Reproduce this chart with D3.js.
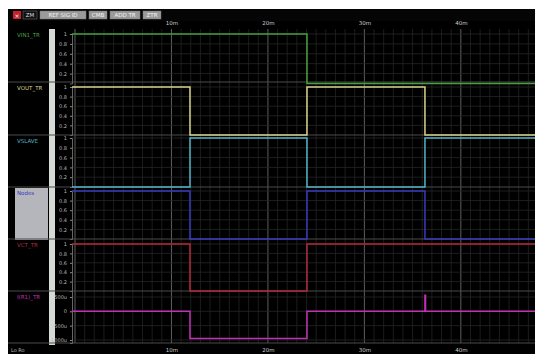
<!DOCTYPE html>
<html>
<head>
<meta charset="utf-8">
<script src="https://cdn.jsdelivr.net/npm/d3@7"></script>
<style>
  html, body { margin: 0; padding: 0; background: #fff; }
  svg { display: block; }
  text { font-family: "DejaVu Sans", Arial, sans-serif; }
</style>
</head>
<body>
<svg id="chart" width="535" height="354"></svg>
<script>
// ---- data ----
const timeTicks = [10, 20, 30, 40];                 // ms
const timeTickLabels = ["10m", "20m", "30m", "40m"];
const edgeTimes = [-1, 11.92, 24.05, 36.28];        // switching instants (ms)

const signalNames = ["VIN1_TR", "VOUT_TR", "VSLAVE", "Nodes", "VCT_TR", "I(R1)_TR"];
const signalColors = ["#46a040", "#d8d48a", "#52b4c8", "#3a3ac0", "#b42a3c", "#c232b4"];

const vinLevels    = [1, 1, 0, 0];
const voutLevels   = [1, 0, 1, 0];
const vslaveLevels = [0, 1, 0, 1];
const nodesLevels  = [1, 0, 1, 0];
const vctLevels    = [1, 0, 1, 1];

// current trace in micro-amps, with a short spike on the last edge
const currentTimes  = [-1, 11.92, 24.05, 36.28, 36.34];
const currentLevels = [0, -950, 0, 560, 0];

const logicTicks = [1, 0.8, 0.6, 0.4, 0.2];
const logicTickLabels = ["1", "0.8", "0.6", "0.4", "0.2"];
const currentTicks = [500, 0, -500, -1000];
const currentTickLabels = ["500u", "0", "-500u", "-1000u"];

const toolbarLabels = ["ZM", "REF SIG ID", "CMB", "ADD TR", "ZTR"];

// ---- layout ----
const W = 535, H = 354;
const plotL = 72, plotR = 535;
const laneTops = [29, 82, 135, 187, 239, 291];
const laneBottom = 343;
const highPad = [5, 5, 3, 4, 5];   // gap between lane top and the "1" level
const lowPad = [-1.5, 0, 0, 0, 0]; // gap between lane bottom and the "0" level

const svg = d3.select("#chart");
svg.append("rect").attr("width", W).attr("height", H).attr("fill", "#fff");
// instrument window
svg.append("rect").attr("x", 8).attr("y", 9).attr("width", W - 8).attr("height", H - 9).attr("fill", "#000");

const x = d3.scaleLinear().domain([0, 48]).range([75, 538]);

const laneBot = i => (i < laneTops.length - 1 ? laneTops[i + 1] : laneBottom);
const logicY = i => d3.scaleLinear().domain([0, 1])
  .range([laneBot(i) - lowPad[i], laneTops[i] + highPad[i]]);
const currentY = d3.scaleLinear().domain([-1105, 709]).range([laneBottom, laneTops[5]]);

// ---- toolbar ----
const tb = svg.append("g");
tb.append("rect").attr("x", 8).attr("y", 9).attr("width", W - 8).attr("height", 12).attr("fill", "#050505");
tb.append("rect").attr("x", 13).attr("y", 11).attr("width", 8).attr("height", 8).attr("fill", "#c8202a");
tb.append("text").attr("x", 17).attr("y", 17.5).attr("text-anchor", "middle")
  .attr("font-size", 6).attr("fill", "#fff").text("×");
let bx = 23;
toolbarLabels.forEach((lab, i) => {
  const w = lab.length * 4 + 6;
  tb.append("rect").attr("x", bx).attr("y", 11).attr("width", w).attr("height", 8)
    .attr("fill", i === 0 ? "#111" : "#9a9a9a").attr("stroke", "#777").attr("stroke-width", 0.5);
  tb.append("text").attr("x", bx + w / 2).attr("y", 17.3).attr("text-anchor", "middle")
    .attr("font-size", 5.5).attr("fill", i === 0 ? "#ddd" : "#f4f4f4").text(lab);
  bx += w + 3;
});

// ---- left panel: names and scrollbar ----
const panel = svg.append("g");
panel.append("rect").attr("x", 15).attr("y", laneTops[3] + 1).attr("width", 33)
  .attr("height", laneBot(3) - laneTops[3]).attr("fill", "#b4b6bc");
signalNames.forEach((name, i) => {
  panel.append("text").attr("x", 17).attr("y", laneTops[i] + 8)
    .attr("font-size", 5.5).attr("fill", signalColors[i]).text(name);
});
panel.append("rect").attr("x", 49).attr("y", 29).attr("width", 6).attr("height", 316)
  .attr("fill", "#d6dad6");

// ---- grid ----
const grid = svg.append("g");
const minorTimes = d3.range(0, 49, 1);
grid.selectAll("line.minor").data(minorTimes).join("line")
  .attr("x1", d => x(d)).attr("x2", d => x(d)).attr("y1", 29).attr("y2", laneBottom)
  .attr("stroke", d => (d % 10 === 0 ? "#5e5e5e" : "#232323"))
  .attr("stroke-width", d => (d % 10 === 0 ? 1 : 0.8));

laneTops.forEach((top, i) => {
  const ticks = i < 5 ? logicTicks : currentTicks;
  const ys = i < 5 ? logicY(i) : currentY;
  grid.selectAll(null).data(ticks).join("line")
    .attr("x1", plotL).attr("x2", plotR).attr("y1", d => ys(d)).attr("y2", d => ys(d))
    .attr("stroke", "#262626").attr("stroke-width", 0.8);
});
// lane separators
grid.selectAll("line.sep").data(laneTops.slice(1).concat([laneBottom])).join("line")
  .attr("x1", 8).attr("x2", W).attr("y1", d => d).attr("y2", d => d)
  .attr("stroke", "#4a4a4a").attr("stroke-width", 1);

// ---- y axes per lane ----
laneTops.forEach((top, i) => {
  const ys = i < 5 ? logicY(i) : currentY;
  const ticks = i < 5 ? logicTicks : currentTicks;
  const labels = i < 5 ? logicTickLabels : currentTickLabels;
  const ax = d3.axisLeft(ys).tickValues(ticks).tickSize(2)
    .tickFormat((d, k) => labels[k]);
  const g = svg.append("g").attr("transform", `translate(${plotL},0)`).call(ax);
  g.select(".domain").attr("stroke", "#666");
  g.selectAll(".tick line").attr("stroke", "#888");
  g.selectAll(".tick text").attr("fill", "#bbb").attr("font-size", 5)
    .attr("font-family", "DejaVu Sans, sans-serif");
});

// ---- time axes ----
const topAx = d3.axisTop(x).tickValues(timeTicks).tickSize(0)
  .tickFormat((d, k) => timeTickLabels[k]);
const gt = svg.append("g").attr("transform", "translate(0,28)").call(topAx);
gt.select(".domain").remove();
gt.selectAll(".tick text").attr("fill", "#ccc").attr("font-size", 5.5);

const botAx = d3.axisBottom(x).tickValues(timeTicks).tickSize(0)
  .tickFormat((d, k) => timeTickLabels[k]);
const gb = svg.append("g").attr("transform", "translate(0,345)").call(botAx);
gb.select(".domain").remove();
gb.selectAll(".tick text").attr("fill", "#ccc").attr("font-size", 5.5);
svg.append("text").attr("x", 11).attr("y", 352).attr("font-size", 5).attr("fill", "#bbb").text("Lo Ro");

// ---- traces ----
const clip = svg.append("clipPath").attr("id", "plotClip");
clip.append("rect").attr("x", plotL).attr("y", 29).attr("width", plotR - plotL).attr("height", laneBottom - 28);

const traces = svg.append("g").attr("clip-path", "url(#plotClip)");
const logicSeries = [vinLevels, voutLevels, vslaveLevels, nodesLevels, vctLevels];
logicSeries.forEach((levels, i) => {
  const ys = logicY(i);
  const pts = edgeTimes.map((t, k) => [t, levels[k]]);
  pts.push([60, levels[levels.length - 1]]);
  const line = d3.line().x(d => x(d[0])).y(d => ys(d[1])).curve(d3.curveStepAfter);
  traces.append("path").attr("d", line(pts)).attr("fill", "none")
    .attr("stroke", signalColors[i]).attr("stroke-width", 1.5);
});
const curPts = currentTimes.map((t, k) => [t, currentLevels[k]]);
curPts.push([60, 0]);
traces.append("path")
  .attr("d", d3.line().x(d => x(d[0])).y(d => currentY(d[1])).curve(d3.curveStepAfter)(curPts))
  .attr("fill", "none").attr("stroke", signalColors[5]).attr("stroke-width", 1.5);
</script>
</body>
</html>
